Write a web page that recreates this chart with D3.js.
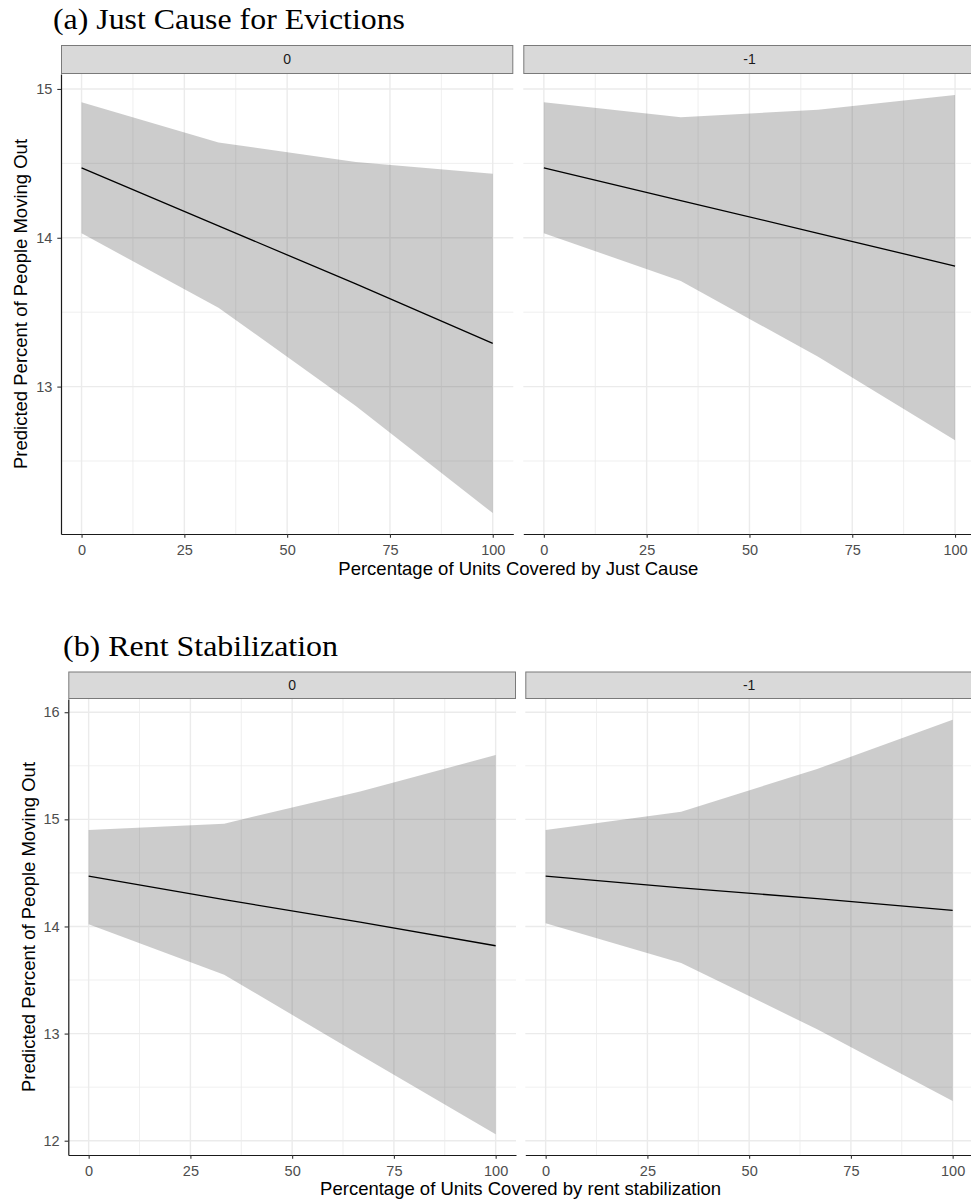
<!DOCTYPE html>
<html>
<head>
<meta charset="utf-8">
<script src="https://cdn.jsdelivr.net/npm/d3@7"></script>
<style>
  body { margin: 0; background: #fff; }
  svg { display: block; }
</style>
</head>
<body>
<svg id="chart" width="971" height="1203"></svg>
<script>
// Prediction grid and facet labels
const xValues = [0, 33.3, 66.7, 100];
const facetLabels = ["0", "-1"];
const xTicks = [0, 25, 50, 75, 100];
const xMinorTicks = [12.5, 37.5, 62.5, 87.5];

// (a) Just cause for evictions: fitted values and confidence band per facet
const justCauseFit0  = [14.47, 14.08, 13.69, 13.29];
const justCauseLow0  = [14.03, 13.53, 12.87, 12.15];
const justCauseHigh0 = [14.91, 14.64, 14.51, 14.43];
const justCauseFit1  = [14.47, 14.25, 14.03, 13.81];
const justCauseLow1  = [14.03, 13.71, 13.20, 12.64];
const justCauseHigh1 = [14.91, 14.81, 14.86, 14.96];
const justCauseYTicks = [13, 14, 15];

// (b) Rent stabilization: fitted values and confidence band per facet
const rentStabFit0  = [14.47, 14.25, 14.04, 13.82];
const rentStabLow0  = [14.02, 13.55, 12.80, 12.06];
const rentStabHigh0 = [14.90, 14.96, 15.26, 15.60];
const rentStabFit1  = [14.47, 14.36, 14.26, 14.15];
const rentStabLow1  = [14.03, 13.66, 13.04, 12.37];
const rentStabHigh1 = [14.90, 15.07, 15.47, 15.93];
const rentStabYTicks = [12, 13, 14, 15, 16];

const yTitle = "Predicted Percent of People Moving Out";

const svg = d3.select("#chart");
const SANS = "'Liberation Sans', Arial, sans-serif";
const SERIF = "'Liberation Serif', 'Times New Roman', serif";
const intFmt = d3.format("d");

function rows(fit, low, high) {
  return xValues.map((x, i) => ({ x, fit: fit[i], low: low[i], high: high[i] }));
}

function drawFigure(cfg) {
  const g = svg.append("g");

  // figure heading
  g.append("text")
    .attr("x", cfg.titleX).attr("y", cfg.titleY)
    .attr("font-family", SERIF).attr("font-size", 29)
    .attr("textLength", cfg.titleLen).attr("lengthAdjust", "spacingAndGlyphs")
    .attr("fill", "#000")
    .text(cfg.title);

  const all = cfg.facets.flatMap(f => f.data);
  const lo = d3.min(all, d => d.low), hi = d3.max(all, d => d.high);
  const pad = (hi - lo) * 0.05;
  const y = d3.scaleLinear().domain([lo - pad, hi + pad]).range([cfg.bottom, cfg.top]);

  const yMinor = [];
  const [d0, d1] = y.domain();
  for (let v = Math.floor(d0) + 0.5; v < d1; v += 1) if (v > d0) yMinor.push(v);

  cfg.facets.forEach((f, i) => {
    const left = cfg.lefts[i];
    const x = d3.scaleLinear().domain([-5, 105]).range([left, left + cfg.width]);
    const p = g.append("g");

    // grid
    const grid = p.append("g").attr("stroke", "#ebebeb").attr("fill", "none");
    xMinorTicks.forEach(v => grid.append("line")
      .attr("x1", x(v)).attr("x2", x(v)).attr("y1", cfg.top).attr("y2", cfg.bottom)
      .attr("stroke-width", 0.8));
    yMinor.forEach(v => grid.append("line")
      .attr("x1", left).attr("x2", left + cfg.width).attr("y1", y(v)).attr("y2", y(v))
      .attr("stroke-width", 0.8));
    xTicks.forEach(v => grid.append("line")
      .attr("x1", x(v)).attr("x2", x(v)).attr("y1", cfg.top).attr("y2", cfg.bottom)
      .attr("stroke-width", 1.4));
    cfg.yTicks.forEach(v => grid.append("line")
      .attr("x1", left).attr("x2", left + cfg.width).attr("y1", y(v)).attr("y2", y(v))
      .attr("stroke-width", 1.4));

    // confidence band
    p.append("path").datum(f.data)
      .attr("d", d3.area().x(d => x(d.x)).y0(d => y(d.low)).y1(d => y(d.high)))
      .attr("fill", "#333").attr("fill-opacity", 0.25);

    // fitted line
    p.append("path").datum(f.data)
      .attr("d", d3.line().x(d => x(d.x)).y(d => y(d.fit)))
      .attr("fill", "none").attr("stroke", "#000").attr("stroke-width", 1.3);

    // facet strip
    p.append("rect")
      .attr("x", left + 0.5).attr("y", cfg.stripTop + 0.5)
      .attr("width", cfg.width - 1).attr("height", cfg.top - cfg.stripTop - 1)
      .attr("fill", "#d9d9d9").attr("stroke", "#7a7a7a").attr("stroke-width", 1);
    p.append("text")
      .attr("x", left + cfg.width / 2).attr("y", (cfg.stripTop + cfg.top) / 2)
      .attr("dy", "0.35em").attr("text-anchor", "middle")
      .attr("font-family", SANS).attr("font-size", 14).attr("fill", "#1a1a1a")
      .text(f.label);

    // x axis
    const xa = p.append("g").attr("transform", `translate(0,${cfg.bottom})`)
      .call(d3.axisBottom(x).tickValues(xTicks).tickFormat(intFmt)
        .tickSize(3.7).tickSizeOuter(0).tickPadding(7));
    xa.select(".domain").attr("stroke", "#1a1a1a").attr("stroke-width", 1.2);
    xa.selectAll(".tick line").attr("stroke", "#333").attr("stroke-width", 1.1);
    xa.selectAll(".tick text").attr("font-family", SANS).attr("font-size", 14.5).attr("fill", "#4d4d4d");

    // y axis on the first facet only
    if (i === 0) {
      const ya = p.append("g").attr("transform", `translate(${left},0)`)
        .call(d3.axisLeft(y).tickValues(cfg.yTicks).tickFormat(intFmt)
          .tickSize(3.7).tickSizeOuter(0).tickPadding(5));
      ya.select(".domain").attr("stroke", "#1a1a1a").attr("stroke-width", 1.2);
      ya.selectAll(".tick line").attr("stroke", "#333").attr("stroke-width", 1.1);
      ya.selectAll(".tick text").attr("font-family", SANS).attr("font-size", 14.5).attr("fill", "#4d4d4d");
    }
  });

  // axis titles
  const plotLeft = cfg.lefts[0], plotRight = cfg.lefts[1] + cfg.width;
  g.append("text")
    .attr("x", (plotLeft + plotRight) / 2).attr("y", cfg.xTitleY)
    .attr("text-anchor", "middle")
    .attr("font-family", SANS).attr("font-size", 18.5).attr("fill", "#000")
    .text(cfg.xTitle);
  g.append("text")
    .attr("transform", `translate(${cfg.yTitleX},${(cfg.top + cfg.bottom) / 2}) rotate(-90)`)
    .attr("text-anchor", "middle")
    .attr("font-family", SANS).attr("font-size", 18.5).attr("fill", "#000")
    .text(yTitle);
}

drawFigure({
  title: "(a) Just Cause for Evictions",
  titleX: 53, titleY: 29, titleLen: 352,
  stripTop: 45, top: 74, bottom: 534,
  lefts: [61, 523.3], width: 452.3,
  yTicks: justCauseYTicks,
  xTitle: "Percentage of Units Covered by Just Cause",
  xTitleY: 575, yTitleX: 26.5,
  facets: [
    { label: facetLabels[0], data: rows(justCauseFit0, justCauseLow0, justCauseHigh0) },
    { label: facetLabels[1], data: rows(justCauseFit1, justCauseLow1, justCauseHigh1) }
  ]
});

drawFigure({
  title: "(b) Rent Stabilization",
  titleX: 63, titleY: 656, titleLen: 275,
  stripTop: 671.5, top: 699, bottom: 1155,
  lefts: [68.3, 525.3], width: 447.7,
  yTicks: rentStabYTicks,
  xTitle: "Percentage of Units Covered by rent stabilization",
  xTitleY: 1195, yTitleX: 34.5,
  facets: [
    { label: facetLabels[0], data: rows(rentStabFit0, rentStabLow0, rentStabHigh0) },
    { label: facetLabels[1], data: rows(rentStabFit1, rentStabLow1, rentStabHigh1) }
  ]
});
</script>
</body>
</html>
